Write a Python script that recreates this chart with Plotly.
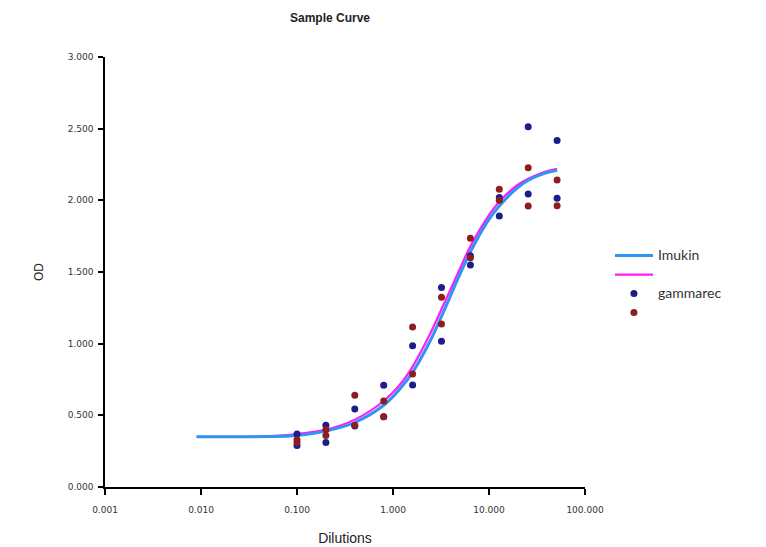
import plotly.graph_objects as go

# ---- data ----
dilutions = [0.1, 0.2, 0.4, 0.8, 1.6, 3.2, 6.4, 12.8, 25.6, 51.2]

blue_rep1 = [0.37, 0.43, 0.545, 0.71, 0.986, 1.391, 1.614, 2.019, 2.514, 2.417]
blue_rep2 = [0.29, 0.31, 0.425, 0.49, 0.712, 1.017, 1.549, 1.891, 2.045, 2.015]
red_rep1 = [0.33, 0.40, 0.64, 0.60, 1.117, 1.324, 1.735, 2.077, 2.228, 2.142]
red_rep2 = [0.31, 0.36, 0.43, 0.49, 0.789, 1.137, 1.600, 2.000, 1.961, 1.963]

curve_x = [0.009, 0.02, 0.05, 0.1, 0.2, 0.4, 0.8, 1.2, 1.6, 2.4, 3.2, 4.8,
           6.4, 9.6, 12.8, 19.2, 25.6, 38.4, 51.2]
imukin_curve = [0.35, 0.35, 0.352, 0.36, 0.39, 0.45, 0.57, 0.69, 0.80, 1.01,
                1.19, 1.46, 1.64, 1.85, 1.96, 2.08, 2.14, 2.19, 2.21]
gammarec_curve = [0.35, 0.35, 0.355, 0.37, 0.40, 0.47, 0.60, 0.72, 0.84, 1.06,
                  1.24, 1.50, 1.68, 1.88, 1.99, 2.10, 2.15, 2.20, 2.22]

x_tickvals = [0.001, 0.01, 0.1, 1, 10, 100]
x_ticktext = ["0.001", "0.010", "0.100", "1.000", "10.000", "100.000"]
y_tickvals = [0, 0.5, 1.0, 1.5, 2.0, 2.5, 3.0]
y_ticktext = ["0.000", "0.500", "1.000", "1.500", "2.000", "2.500", "3.000"]

BLUE_LINE = "#2f95f2"
MAGENTA = "#ff1aff"
NAVY = "#1c1c8a"
DARKRED = "#8e1e1e"


def big(t):
    return "<span style='font-size:14px'>" + t + "</span>"


fig = go.Figure()

fig.add_trace(go.Scatter(x=curve_x, y=gammarec_curve, mode="lines", name=" ",
                         line=dict(color=MAGENTA, width=2.2, shape="spline"),
                         legendrank=2))
fig.add_trace(go.Scatter(x=curve_x, y=imukin_curve, mode="lines", name=big("Imukin"),
                         line=dict(color=BLUE_LINE, width=3, shape="spline"),
                         legendrank=1))
fig.add_trace(go.Scatter(x=dilutions + dilutions, y=blue_rep1 + blue_rep2,
                         mode="markers", name=big("gammarec"),
                         marker=dict(color=NAVY, size=7), legendrank=3))
fig.add_trace(go.Scatter(x=dilutions + dilutions, y=red_rep1 + red_rep2,
                         mode="markers", name="  ",
                         marker=dict(color=DARKRED, size=7), legendrank=4))

fig.update_layout(
    width=758, height=539,
    margin=dict(l=97, r=181, t=49, b=60),
    plot_bgcolor="white", paper_bgcolor="white",
    title=dict(text="<b>Sample Curve</b>", x=322 / 758, xanchor="center",
               y=1 - 10 / 539, yanchor="middle",
               font=dict(family="Liberation Sans, Arial", size=12, color="#222")),
    showlegend=True,
    legend=dict(x=1.052, y=0.572, xanchor="left", yanchor="top",
                font=dict(family="Lato, Noto Sans", size=11, color="#333"),
                tracegroupgap=0, itemwidth=38, bgcolor="rgba(0,0,0,0)"),
    font=dict(family="DejaVu Sans", color="#222"),
)

fig.update_xaxes(type="log", range=[-3, 2], showgrid=False, zeroline=False,
                 showline=True, linecolor="black", linewidth=2,
                 ticks="outside", ticklen=6, tickwidth=1.5, tickcolor="black",
                 ticklabelstandoff=7,
                 tickvals=x_tickvals, ticktext=x_ticktext,
                 tickfont=dict(size=9, family="DejaVu Sans", color="#333"),
                 title=dict(text="Dilutions", standoff=19,
                            font=dict(size=14, family="Liberation Sans, Arial", color="#222")),
                 automargin=False)
fig.update_yaxes(range=[0, 3], showgrid=False, zeroline=False,
                 showline=True, linecolor="black", linewidth=1.5,
                 ticks="outside", ticklen=5, tickwidth=1.5, tickcolor="black",
                 ticklabelstandoff=3,
                 tickvals=y_tickvals, ticktext=y_ticktext,
                 tickfont=dict(size=9, family="DejaVu Sans", color="#333"),
                 title=dict(text="OD", standoff=21,
                            font=dict(size=12, family="Liberation Sans, Arial", color="#222")),
                 automargin=False)

fig.write_html("out.html")
